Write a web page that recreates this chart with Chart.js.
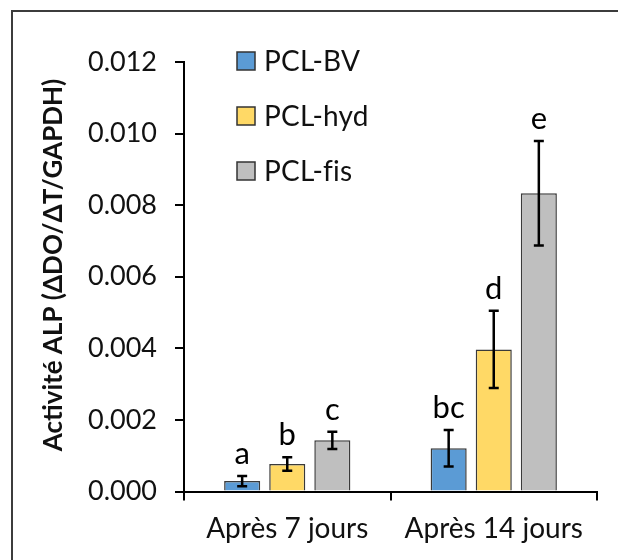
<!DOCTYPE html>
<html>
<head>
<meta charset="utf-8">
<script src="https://cdn.jsdelivr.net/npm/chart.js@4.4.1/dist/chart.umd.min.js"></script>
<style>
  html, body { margin: 0; padding: 0; background: #fff; }
  #wrap { width: 618px; height: 560px; position: relative; }
</style>
</head>
<body>
<div id="wrap"><canvas id="c" width="618" height="560"></canvas></div>
<script>
// Categories (time points)
const categories = ['Après 7 jours', 'Après 14 jours'];

// Series names
const seriesNames = ['PCL-BV', 'PCL-hyd', 'PCL-fis'];

// Mean ALP activity per series (one value per time point)
const bvValues  = [0.00029, 0.00121];
const hydValues = [0.00077, 0.00397];
const fisValues = [0.00143, 0.00833];

// Standard deviations
const bvErrors  = [0.00014, 0.00051];
const hydErrors = [0.00019, 0.00108];
const fisErrors = [0.00024, 0.00146];

// Statistical group letters
const bvLetters  = ['a', 'bc'];
const hydLetters = ['b', 'd'];
const fisLetters = ['c', 'e'];

// Y axis ticks
const yMin = 0, yMax = 0.012, yStep = 0.002;

const yTitle = 'Activité ALP (ΔDO/ΔT/GAPDH)';

const FONT = 'Lato';
const TEXT = '#111';
const colors = ['#5B9BD5', '#FFD966', '#BFBFBF'];

const values = [bvValues, hydValues, fisValues];
const errors = [bvErrors, hydErrors, fisErrors];
const letters = [bvLetters, hydLetters, fisLetters];

// Frame around the figure
const framePlugin = {
  id: 'frame',
  beforeDraw(chart) {
    const ctx = chart.ctx;
    ctx.save();
    ctx.fillStyle = '#fff';
    ctx.fillRect(0, 0, chart.width, chart.height);
    ctx.strokeStyle = '#3c3c3c';
    ctx.lineWidth = 2;
    ctx.strokeRect(12, 11, chart.width + 20, chart.height + 20);
    ctx.restore();
  }
};

// Error bars and group letters on top of every bar
const errorPlugin = {
  id: 'errorBars',
  afterDatasetsDraw(chart) {
    const ctx = chart.ctx;
    const y = chart.scales.y;
    ctx.save();
    chart.data.datasets.forEach((ds, di) => {
      const meta = chart.getDatasetMeta(di);
      meta.data.forEach((bar, i) => {
        const v = ds.data[i];
        const e = errors[di][i];
        const yt = y.getPixelForValue(v + e);
        const yb = y.getPixelForValue(v - e);
        const x = bar.x;
        ctx.strokeStyle = '#000';
        ctx.lineWidth = 2.5;
        ctx.beginPath();
        ctx.moveTo(x, yt); ctx.lineTo(x, yb);
        ctx.moveTo(x - 5, yt); ctx.lineTo(x + 5, yt);
        ctx.moveTo(x - 5, yb); ctx.lineTo(x + 5, yb);
        ctx.stroke();
        ctx.fillStyle = '#000';
        ctx.font = '31px ' + FONT;
        ctx.textAlign = 'center';
        ctx.textBaseline = 'alphabetic';
        ctx.fillText(letters[di][i], x, yt - 12);
      });
    });
    ctx.restore();
  }
};

// Legend inside the plot area, plus the rotated y axis title
const legendPlugin = {
  id: 'innerLegend',
  afterDraw(chart) {
    const ctx = chart.ctx;
    ctx.save();
    const centers = [61, 116, 171];
    chart.data.datasets.forEach((ds, di) => {
      const cy = centers[di];
      ctx.fillStyle = ds.backgroundColor;
      ctx.fillRect(237, cy - 9, 18, 18);
      ctx.strokeStyle = '#333';
      ctx.lineWidth = 1.5;
      ctx.strokeRect(237, cy - 9, 18, 18);
      ctx.fillStyle = TEXT;
      ctx.font = '28px ' + FONT;
      // a tiny letter spacing keeps "f" and "i" as separate glyphs
      if ('letterSpacing' in ctx) ctx.letterSpacing = '0.2px';
      ctx.textAlign = 'left';
      ctx.textBaseline = 'middle';
      ctx.fillText(ds.label, 264, cy + 1);
      if ('letterSpacing' in ctx) ctx.letterSpacing = '0px';
    });
    ctx.translate(54, 265);
    ctx.rotate(-Math.PI / 2);
    ctx.font = 'bold 26px ' + FONT;
    ctx.fillStyle = TEXT;
    ctx.textAlign = 'center';
    ctx.textBaseline = 'middle';
    ctx.fillText(yTitle, 0, 0);
    ctx.restore();
  }
};

new Chart(document.getElementById('c'), {
  type: 'bar',
  data: {
    labels: categories,
    datasets: seriesNames.map((name, i) => ({
      label: name,
      data: values[i],
      backgroundColor: colors[i],
      borderColor: '#3a3a3a',
      borderWidth: 1.5,
      categoryPercentage: 0.655,
      barPercentage: 0.8
    }))
  },
  options: {
    responsive: false,
    animation: false,
    devicePixelRatio: 1,
    layout: { padding: { left: 0, right: 21, top: 62, bottom: 0 } },
    plugins: { legend: { display: false }, tooltip: { enabled: false } },
    scales: {
      x: {
        offset: true,
        grid: { drawOnChartArea: false, tickLength: 9, color: '#000', lineWidth: 2, offset: true },
        border: { color: '#000', width: 2 },
        ticks: { font: { family: FONT, size: 28 }, color: TEXT, padding: 12 },
        afterFit(scale) { scale.height = 68.5; }
      },
      y: {
        min: yMin, max: yMax,
        grid: { drawOnChartArea: false, tickLength: 9, color: '#000', lineWidth: 2 },
        border: { color: '#000', width: 2 },
        ticks: {
          stepSize: yStep,
          font: { family: FONT, size: 27 },
          color: TEXT,
          padding: 18,
          callback: v => v.toFixed(3)
        },
        afterFit(scale) { scale.width = 184; }
      }
    }
  },
  plugins: [framePlugin, errorPlugin, legendPlugin]
});
</script>
</body>
</html>
